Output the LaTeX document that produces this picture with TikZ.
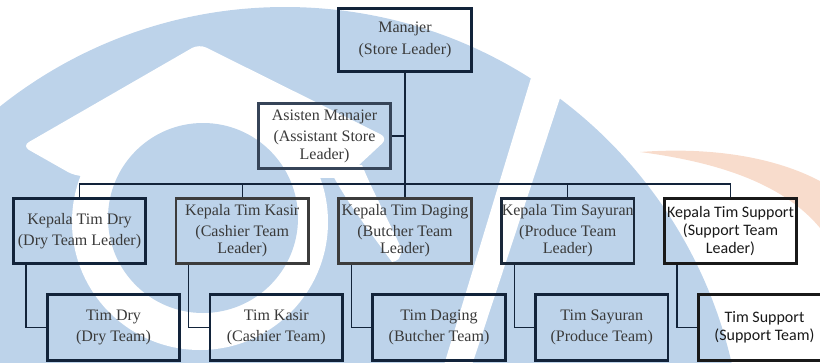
\documentclass[tikz,border=0pt]{standalone}
\usepackage{fontspec}
\setmainfont{Liberation Serif}
\newfontfamily\calibrifont{Carlito}
\usetikzlibrary{positioning}

\definecolor{wmblue}{HTML}{BDD3EA}
\definecolor{wmorange}{HTML}{F8DCCC}
\definecolor{boxnavy}{HTML}{12233A}
\definecolor{boxgrey}{HTML}{3C3C3C}
\definecolor{txtgrey}{HTML}{3A3A3A}

\tikzset{
  orgbox/.style={draw=boxnavy, line width=2.6pt, minimum width=132.5pt,
    minimum height=65.5pt, inner sep=0pt, align=center, text=txtgrey,
    font=\fontsize{16}{17.5}\selectfont},
  greybox/.style={orgbox, draw=boxgrey},
  sansbox/.style={orgbox, draw=black!90, text=black!90,
    font=\calibrifont\fontsize{16}{18}\selectfont},
  link/.style={draw=boxnavy, line width=1.3pt}
}

\begin{document}
\begin{tikzpicture}[x=1pt, y=-1pt]
    \useasboundingbox (0,0) rectangle (820,362);
    \clip (0,0) rectangle (820,362);

    % watermark
    \fill[wmblue] (285,465) circle (458);
    \fill[white, rounded corners=8pt] (22,146) -- (199,44) -- (388,138) -- (345,178) -- (75,176) -- cycle;
    \fill[white] (200,222) circle (128);
    \fill[wmblue] (203,218) circle (95);
    \fill[white] (328,166) .. controls (345,200) and (365,225) .. (392,262)
        .. controls (399,260) .. (402,250) .. controls (386,215) and (372,190) .. (362,165) -- cycle;
    \fill[white] (531,78) -- (562,92) -- (472,365) -- (444,365) -- cycle;
    \fill[wmorange] (640,152) .. controls (720,146) and (790,160) .. (835,190) -- (835,250)
        .. controls (805,195) and (740,165) .. (640,152) -- cycle;

    % manager and assistant
    \node[orgbox, minimum height=63.5pt] (mgr) at (405,40) {Manajer\\[4pt](Store Leader)};
    \node[orgbox, draw=boxnavy!85!white] (asst) at (324.5,136) {Asisten Manajer\\[4pt](Assistant Store\\Leader)};

    % team leaders
    \node[orgbox] (kdry) at (79.5,231) {Kepala Tim Dry\\[4pt](Dry Team Leader)};
    \node[greybox] (kkasir) at (242.25,231) {Kepala Tim Kasir\\[3pt](Cashier Team\\Leader)};
    \node[greybox] (kdaging) at (405,231) {Kepala Tim Daging\\[3pt](Butcher Team\\Leader)};
    \node[orgbox, draw=boxnavy!80!boxgrey] (ksayur) at (567.75,231) {Kepala Tim Sayuran\\[3pt](Produce Team\\Leader)};
    \node[sansbox] (ksupport) at (730.5,231) {Kepala Tim Support\\(Support Team\\Leader)};

    % teams
    \node[orgbox] (tdry) at (113.5,327.5) {Tim Dry\\[3pt](Dry Team)};
    \node[orgbox] (tkasir) at (276.25,327.5) {Tim Kasir\\[3pt](Cashier Team)};
    \node[orgbox] (tdaging) at (439,327.5) {Tim Daging\\[3pt](Butcher Team)};
    \node[orgbox] (tsayur) at (601.75,327.5) {Tim Sayuran\\[3pt](Produce Team)};
    \node[sansbox] (tsupport) at (764.5,327.5) {Tim Support\\(Support Team)};

    % connectors
    \coordinate (bus) at (405,184);
    \draw[link] (mgr.south) -- (kdaging.north);
    \draw[link] (asst.east) -- (asst.east -| mgr.south);
    \draw[link] (kdry.north) |- (bus) -| (ksupport.north);
    \draw[link] (kkasir.north) |- (bus);
    \draw[link] (ksayur.north) |- (bus);
    \draw[link] ([xshift=14pt]kdry.south west) |- (tdry.west);
    \draw[link] ([xshift=14pt]kkasir.south west) |- (tkasir.west);
    \draw[link] ([xshift=14pt]kdaging.south west) |- (tdaging.west);
    \draw[link] ([xshift=14pt]ksayur.south west) |- (tsayur.west);
    \draw[link] ([xshift=14pt]ksupport.south west) |- (tsupport.west);
\end{tikzpicture}
\end{document}
